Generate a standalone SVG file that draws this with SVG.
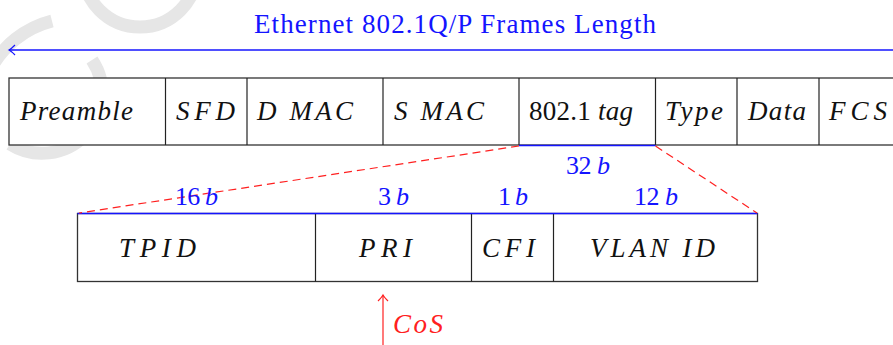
<svg xmlns="http://www.w3.org/2000/svg" width="893" height="345" viewBox="0 0 893 345">
<defs>
<style>
.wm{fill:none;stroke:#e6e6e6;stroke-width:13}
.box{fill:#fff;stroke:#333;stroke-width:1.3}
.div{stroke:#222;stroke-width:1.2}
.t{font-family:"Liberation Serif","DejaVu Serif",serif;font-size:27px;font-style:italic;fill:#111}
.up{font-style:normal}
.lb{font-family:"Liberation Serif","DejaVu Serif",serif;font-size:26px;fill:#1414ff}
.blue{stroke:#1414ff;stroke-width:1.3;fill:none}
.dash{stroke:#ff2020;stroke-width:1.2;stroke-dasharray:8 5;fill:none}
</style>
<marker id="ab" markerWidth="10" markerHeight="12" refX="7" refY="6" orient="auto" markerUnits="userSpaceOnUse">
<path d="M1,1 Q5,5 7,6 Q5,7 1,11" fill="none" stroke="#1414ff" stroke-width="1.2"/>
</marker>
<marker id="ar" markerWidth="10" markerHeight="12" refX="7" refY="6" orient="auto" markerUnits="userSpaceOnUse">
<path d="M1,1 Q5,5 7,6 Q5,7 1,11" fill="none" stroke="#ff2020" stroke-width="1.2"/>
</marker>
</defs>
<rect width="893" height="345" fill="#fff"/>
<g id="watermark">
<circle class="wm" cx="140" cy="-30" r="57"/>
<path class="wm" d="M52,21 A97,97 0 0 0 -10,70"/>
<path class="wm" d="M92,60 A60,60 0 0 1 10,144"/>
</g>
<g id="title">
<text x="254" y="33" textLength="402" lengthAdjust="spacing" style="font-family:'Liberation Serif','DejaVu Serif',serif;font-size:27px;fill:#1414ff">Ethernet 802.1Q/P Frames Length</text>
</g>
<g id="frame">
<rect class="box" x="9" y="78" width="890" height="67"/>
<line class="div" x1="165.5" y1="78" x2="165.5" y2="145"/>
<line class="div" x1="247" y1="78" x2="247" y2="145"/>
<line class="div" x1="383" y1="78" x2="383" y2="145"/>
<line class="div" x1="519" y1="78" x2="519" y2="145"/>
<line class="div" x1="655.5" y1="78" x2="655.5" y2="145"/>
<line class="div" x1="737" y1="78" x2="737" y2="145"/>
<line class="div" x1="819" y1="78" x2="819" y2="145"/>
<text class="t" x="20" y="120" textLength="113" lengthAdjust="spacing">Preamble</text>
<text class="t" x="176" y="120" textLength="59" lengthAdjust="spacing">SFD</text>
<text class="t" x="257" y="120" textLength="96" lengthAdjust="spacing">D MAC</text>
<text class="t" x="394" y="120" textLength="90" lengthAdjust="spacing">S MAC</text>
<text class="t" x="529" y="120" textLength="104" lengthAdjust="spacing"><tspan class="up">802.1 </tspan>tag</text>
<text class="t" x="665" y="120" textLength="58" lengthAdjust="spacing">Type</text>
<text class="t" x="748" y="120" textLength="58" lengthAdjust="spacing">Data</text>
<text class="t" x="829" y="120" textLength="58" lengthAdjust="spacing">FCS</text>
</g>
<g id="tag">
<rect class="box" x="77.5" y="213.5" width="680" height="68"/>
<line class="div" x1="315.5" y1="213.5" x2="315.5" y2="281.5"/>
<line class="div" x1="471.5" y1="213.5" x2="471.5" y2="281.5"/>
<line class="div" x1="553.5" y1="213.5" x2="553.5" y2="281.5"/>
<text class="t" x="119" y="257" textLength="77" lengthAdjust="spacing">TPID</text>
<text class="t" x="359" y="257" textLength="53" lengthAdjust="spacing">PRI</text>
<text class="t" x="482" y="257" textLength="53" lengthAdjust="spacing">CFI</text>
<text class="t" x="590" y="257" textLength="125" lengthAdjust="spacing">VLAN ID</text>
</g>
<g id="connectors">
<line class="blue" x1="893" y1="50" x2="9" y2="50" marker-end="url(#ab)"/>
<line class="blue" x1="519" y1="145.5" x2="655.5" y2="145.5"/>
<line class="blue" x1="77.5" y1="213.5" x2="757.5" y2="213.5"/>
<line class="dash" x1="519" y1="146" x2="79" y2="213"/>
<line class="dash" x1="655.5" y1="146" x2="757" y2="213"/>
<line x1="383" y1="345" x2="383" y2="295" stroke="#ff2020" stroke-width="1.2" marker-end="url(#ar)"/>
</g>
<g id="labels">
<text class="lb" x="566" y="174" textLength="44" lengthAdjust="spacing">32 <tspan font-style="italic">b</tspan></text>
<text class="lb" x="175" y="205" textLength="43" lengthAdjust="spacing">16 <tspan font-style="italic">b</tspan></text>
<text class="lb" x="378" y="205" textLength="31" lengthAdjust="spacing">3 <tspan font-style="italic">b</tspan></text>
<text class="lb" x="498" y="205" textLength="30" lengthAdjust="spacing">1 <tspan font-style="italic">b</tspan></text>
<text class="lb" x="634" y="205" textLength="44" lengthAdjust="spacing">12 <tspan font-style="italic">b</tspan></text>
<text x="393" y="333" textLength="50" lengthAdjust="spacing" style="font-family:'Liberation Serif','DejaVu Serif',serif;font-size:27px;font-style:italic;fill:#ff2020">CoS</text>
</g>
</svg>
